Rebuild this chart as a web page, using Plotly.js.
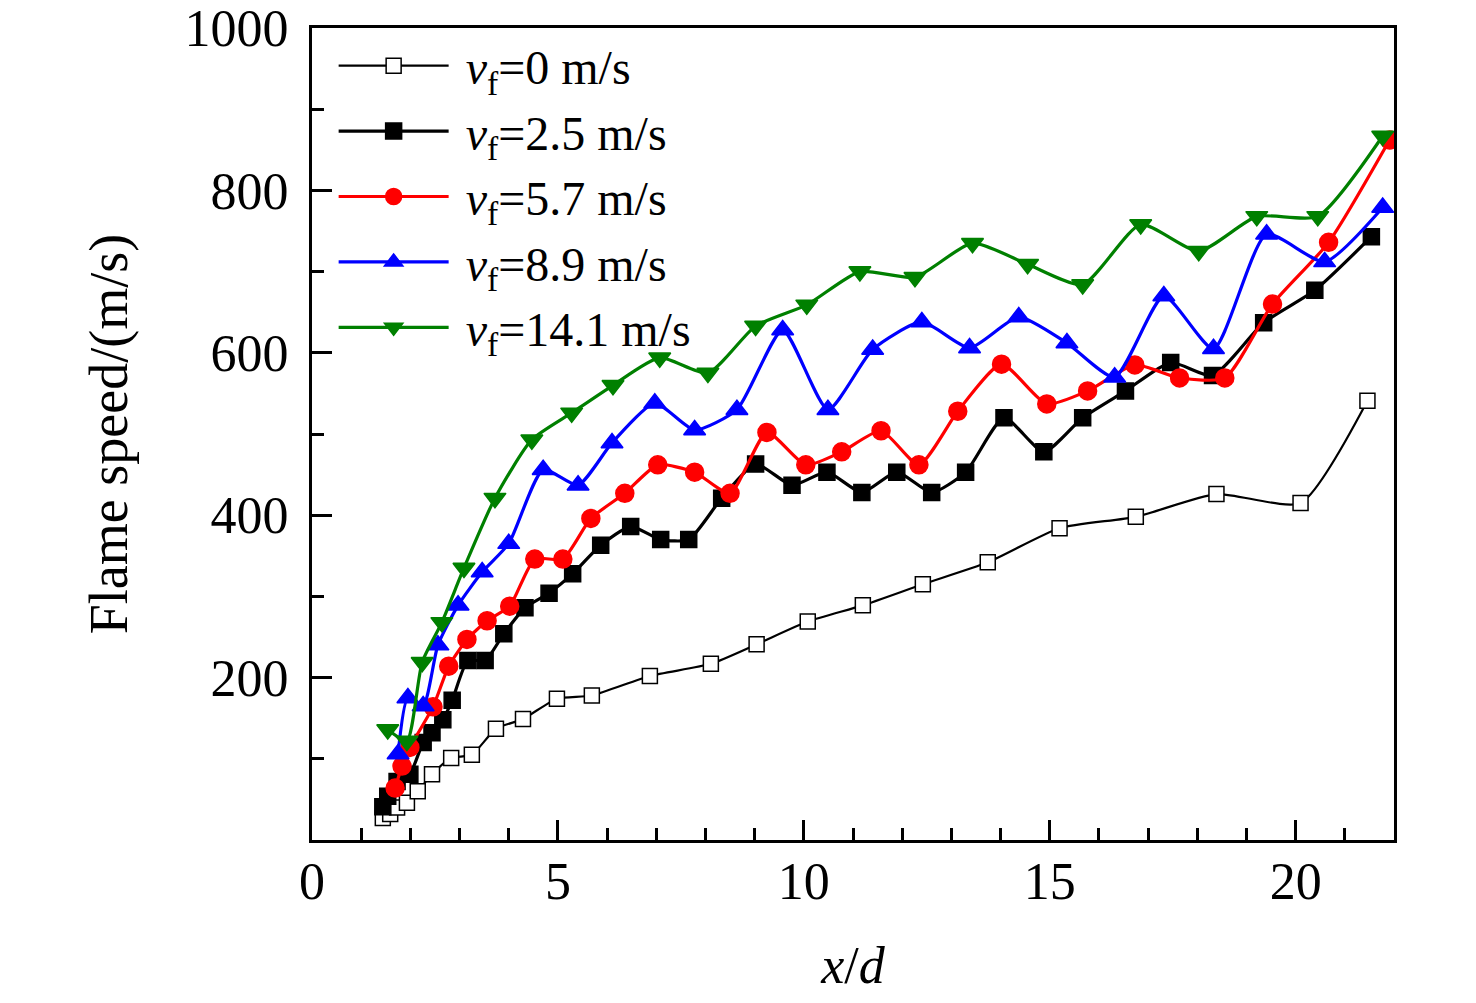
<!DOCTYPE html>
<html>
<head>
<meta charset="utf-8">
<script src="https://cdn.plot.ly/plotly-3.0.1.min.js"></script>
<style>
  html, body { margin: 0; padding: 0; background: #fff; }
  #chart { width: 1476px; height: 1003px; }
</style>
</head>
<body>
<div id="chart"></div>
<script>
// flame speed vs x/d
const seriesNames = [
    '&nbsp;<i>v</i><sub>f</sub>=0 m/s',
    '&nbsp;<i>v</i><sub>f</sub>=2.5 m/s',
    '&nbsp;<i>v</i><sub>f</sub>=5.7 m/s',
    '&nbsp;<i>v</i><sub>f</sub>=8.9 m/s',
    '&nbsp;<i>v</i><sub>f</sub>=14.1 m/s'
];

const x_v0 = [1.44, 1.59, 1.73, 1.93, 2.15, 2.44, 2.83, 3.25, 3.74, 4.29, 4.98, 5.69, 6.87, 8.11, 9.04, 10.08, 11.2, 12.42, 13.74, 15.2, 16.75, 18.39, 20.1, 21.46];
const y_v0 = [27, 32, 40, 46, 60, 81, 101, 105, 137, 149, 174, 178, 202, 217, 241, 269, 289, 315, 342, 384, 398, 426, 415, 541];

const x_v25 = [1.44, 1.54, 1.73, 1.99, 2.26, 2.44, 2.66, 2.85, 3.17, 3.52, 3.90, 4.33, 4.82, 5.30, 5.87, 6.48, 7.09, 7.66, 8.33, 9.02, 9.76, 10.47, 11.18, 11.89, 12.60, 13.29, 14.07, 14.88, 15.67, 16.54, 17.46, 18.31, 19.35, 20.39, 21.54];
const y_v25 = [41, 54, 72, 81, 120, 132, 148, 172, 221, 221, 254, 286, 304, 328, 363, 386, 370, 370, 421, 463, 437, 453, 428, 453, 428, 453, 520, 478, 520, 553, 588, 572, 637, 677, 743];

const x_v57 = [1.69, 1.83, 1.99, 2.46, 2.78, 3.15, 3.56, 4.02, 4.53, 5.10, 5.67, 6.36, 7.03, 7.78, 8.50, 9.25, 10.04, 10.77, 11.57, 12.34, 13.13, 14.02, 14.94, 15.77, 16.73, 17.64, 18.56, 19.53, 20.67, 21.91];
const y_v57 = [64, 91, 114, 164, 214, 247, 270, 288, 346, 346, 396, 427, 462, 453, 427, 502, 462, 478, 504, 462, 528, 586, 537, 553, 585, 569, 569, 660, 736, 862];

const x_v89 = [1.75, 1.95, 2.26, 2.56, 2.97, 3.46, 4.00, 4.70, 5.41, 6.10, 6.97, 7.78, 8.64, 9.57, 10.49, 11.40, 12.40, 13.37, 14.37, 15.35, 16.32, 17.32, 18.33, 19.41, 20.59, 21.77];
const y_v89 = [106, 175, 165, 240, 289, 330, 365, 456, 437, 489, 538, 505, 530, 628, 530, 604, 638, 606, 644, 612, 570, 670, 605, 746, 712, 779];

const x_v141 = [1.54, 1.93, 2.24, 2.64, 3.09, 3.72, 4.47, 5.28, 6.12, 7.07, 8.05, 9.02, 10.06, 11.14, 12.26, 13.43, 14.55, 15.67, 16.85, 18.03, 19.21, 20.45, 21.77];
const y_v141 = [136, 122, 219, 268, 335, 421, 493, 526, 560, 594, 575, 633, 659, 700, 693, 735, 709, 684, 758, 725, 768, 768, 867];

const yTickVals = [0, 200, 400, 600, 800, 1000];
const yTickText = ['', '200', '400', '600', '800', '1000'];
const yMinorVals = [100, 300, 500, 700, 900];

const serif = 'Liberation Serif, Times New Roman, serif';

function series(x, y, name, color, symbol, size, width, fill) {
    return {
        x: x,
        y: y,
        mode: 'lines+markers',
        name: name,
        legendgroup: name,
        line: { color: color, width: width, shape: 'spline', smoothing: 0.6 },
        marker: {
            symbol: symbol,
            size: size,
            color: fill,
            line: { color: color, width: 1.5 }
        }
    };
}

const traces = [
    series(x_v0, y_v0, seriesNames[0], '#000000', 'square', 15, 2.2, '#ffffff'),
    series(x_v25, y_v25, seriesNames[1], '#000000', 'square', 16, 3.2, '#000000'),
    series(x_v57, y_v57, seriesNames[2], '#ff0000', 'circle', 18, 3.2, '#ff0000'),
    series(x_v89, y_v89, seriesNames[3], '#0000ff', 'triangle-up', 19, 3.2, '#0000ff'),
    series(x_v141, y_v141, seriesNames[4], '#008000', 'triangle-down', 19, 3.2, '#008000')
];

const layout = {
    width: 1476,
    height: 1003,
    paper_bgcolor: '#ffffff',
    plot_bgcolor: '#ffffff',
    font: { family: serif, size: 52, color: '#000000' },
    margin: { l: 312, r: 82, t: 28, b: 163 },
    showlegend: true,
    legend: {
        x: 0.02,
        y: 1.0,
        xanchor: 'left',
        yanchor: 'top',
        bgcolor: 'rgba(0,0,0,0)',
        font: { family: serif, size: 48, color: '#000000' },
        traceorder: 'grouped',
        tracegroupgap: 0,
        itemwidth: 110,
        itemsizing: 'trace'
    },
    xaxis: {
        range: [0, 22],
        tickmode: 'linear',
        tick0: 0,
        dtick: 5,
        ticks: 'inside',
        ticklen: 20,
        tickwidth: 3,
        tickcolor: '#000000',
        minor: { tickmode: 'linear', tick0: 0, dtick: 1, ticks: 'inside', ticklen: 12, tickwidth: 3, tickcolor: '#000000' },
        showline: true,
        linewidth: 3,
        linecolor: '#000000',
        mirror: true,
        showgrid: false,
        zeroline: false,
        ticklabelstandoff: -6,
        title: {
            text: '<i>x</i>/<i>d</i>',
            font: { family: serif, size: 52, color: '#000000' },
            standoff: 38
        }
    },
    yaxis: {
        range: [0, 1000],
        tickmode: 'array',
        tickvals: yTickVals,
        ticktext: yTickText,
        ticks: 'inside',
        ticklen: 20,
        tickwidth: 3,
        tickcolor: '#000000',
        minor: { tickmode: 'array', tickvals: yMinorVals, ticks: 'inside', ticklen: 12, tickwidth: 3, tickcolor: '#000000' },
        showline: true,
        linewidth: 3,
        linecolor: '#000000',
        mirror: true,
        showgrid: false,
        zeroline: false,
        ticklabelstandoff: 10,
        title: {
            text: 'Flame speed/(m/s)',
            font: { family: serif, size: 54, color: '#000000' },
            standoff: 40
        }
    }
};

Plotly.newPlot('chart', traces, layout, { displayModeBar: false, responsive: false });
</script>
</body>
</html>
